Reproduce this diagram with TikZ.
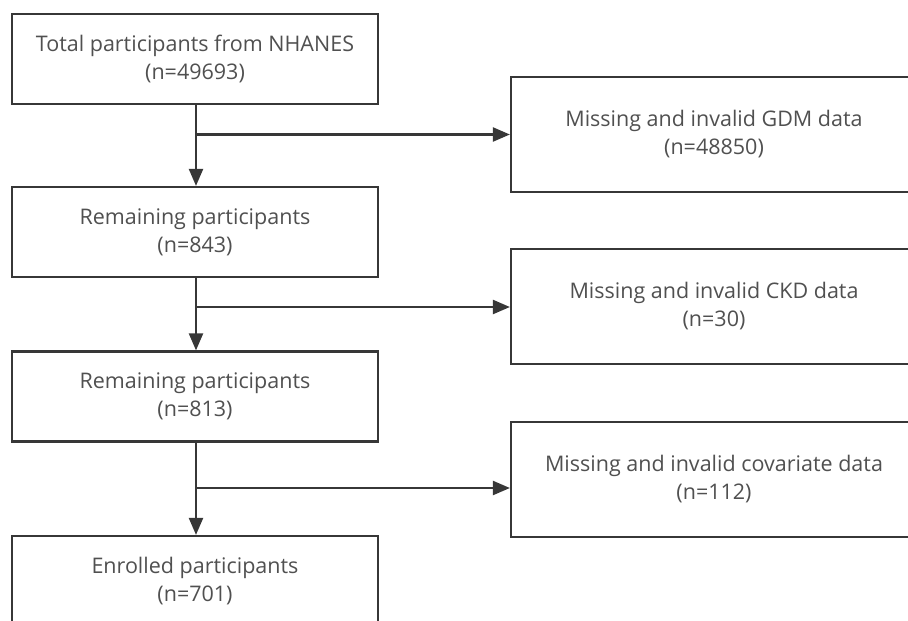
\documentclass[tikz,border=0pt]{standalone}
\usepackage{fontspec}
\setmainfont{Open Sans}
\usetikzlibrary{arrows.meta}

\definecolor{linegray}{RGB}{55,55,55}
\definecolor{textgray}{RGB}{80,80,80}

\begin{document}
\begin{tikzpicture}[x=1pt,y=-1pt
	,box/.style={
		rectangle
		,draw=linegray
		,line width=2.2pt
		,fill=white
		,text=textgray
		,align=center
		,inner sep=0
		,minimum height=90pt
		,font=\fontsize{21.5}{28}\selectfont
	}
	,lbox/.style={box,minimum width=366pt}
	,rbox/.style={box,minimum width=406pt,minimum height=115pt}
	,arr/.style={draw=linegray,line width=2.2pt,-{Triangle[length=17pt,width=14pt]}}
]

\useasboundingbox (0,0) rectangle (908,621);
\clip (0,0) rectangle (908,621);

\node[lbox](total) at(195,59) {Total participants from NHANES\\(n=49693)};
\node[lbox](remain1) at(195,232) {Remaining participants\\(n=843)};
\node[lbox](remain2) at(195,396.5) {Remaining participants\\(n=813)};
\node[lbox](enrolled) at(195,581) {Enrolled participants\\(n=701)};

\node[rbox](gdm) at(714,134.5) {Missing and invalid GDM data\\(n=48850)};
\node[rbox](ckd) at(714,306.5) {Missing and invalid CKD data\\(n=30)};
\node[rbox](cov) at(714,479.5) {Missing and invalid covariate data\\(n=112)};

\coordinate(j1) at(196,134.5);
\coordinate(j2) at(196,307);
\coordinate(j3) at(196,488);

\foreach \u \v in {total/remain1,remain1/remain2,remain2/enrolled}{
	\draw[arr] (\u.south -| j1) -- (\v.north -| j1);
}

\foreach \j \m in {j1/gdm,j2/ckd,j3/cov}{
	\draw[arr] (\j) -- (\m.west |- \j);
}

\end{tikzpicture}
\end{document}
